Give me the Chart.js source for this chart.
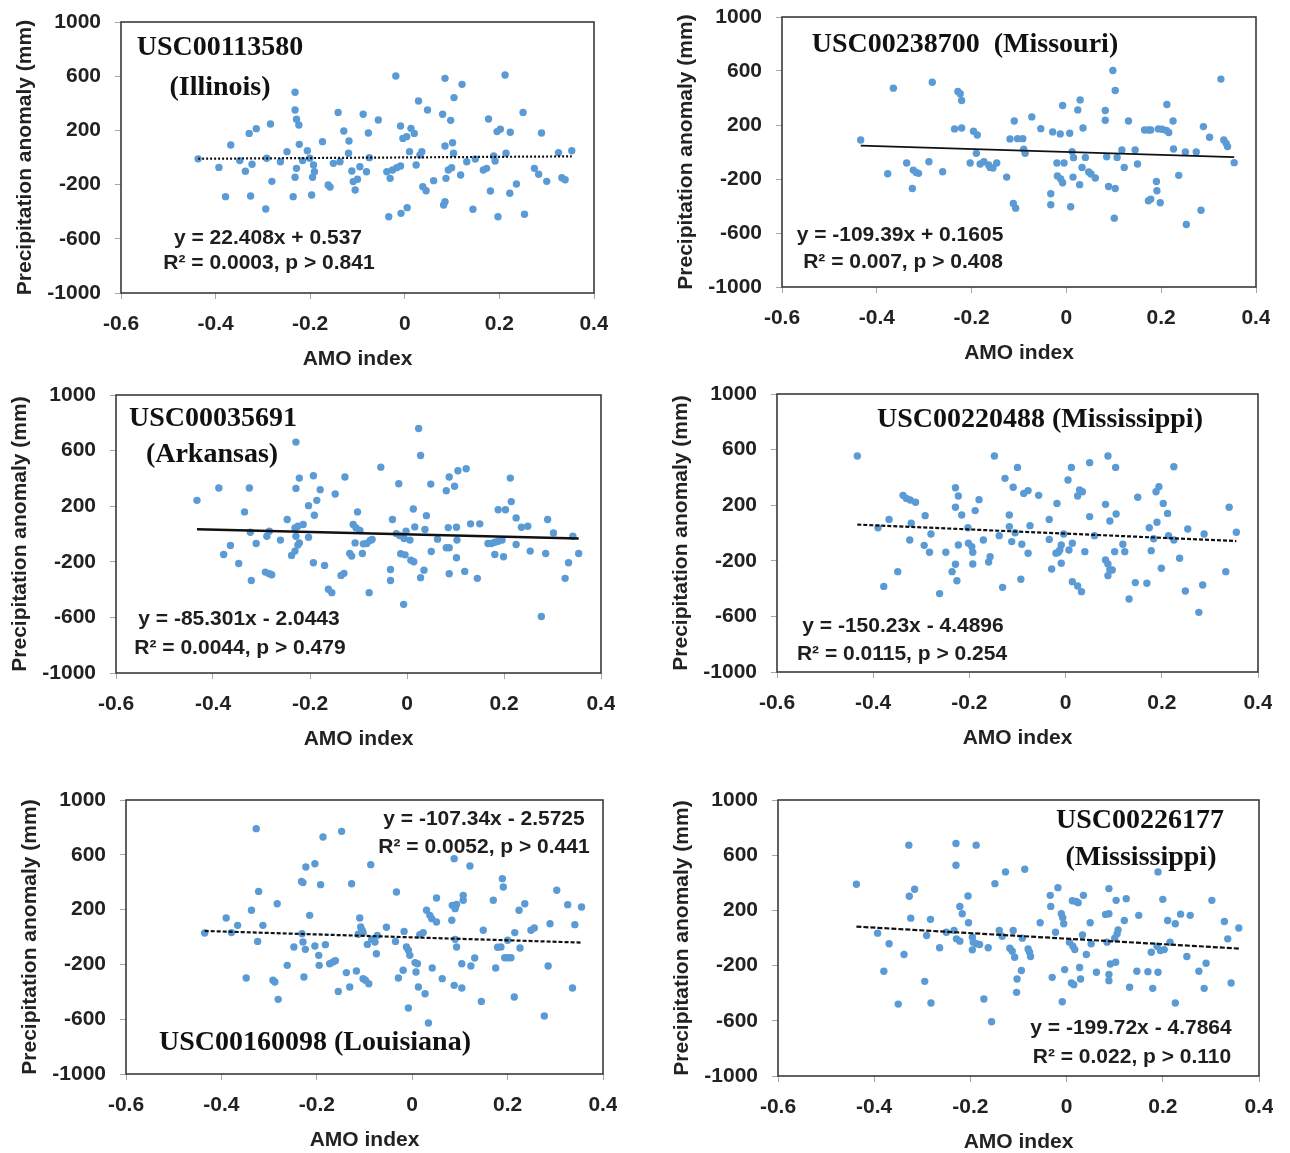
<!DOCTYPE html>
<html>
<head>
<meta charset="utf-8">
<script src="https://cdn.jsdelivr.net/npm/chart.js@4.4.1/dist/chart.umd.min.js"></script>
<style>
html,body{margin:0;padding:0;background:#fff;}
body{width:1290px;height:1153px;position:relative;overflow:hidden;}
canvas{position:absolute;}
.lbl{position:absolute;transform:translate(-50%,-50%);white-space:pre;line-height:1;color:#111;}
.stn{font-family:"Liberation Serif","Times New Roman",serif;font-weight:bold;font-size:28px;}
.eq{font-family:"Liberation Sans",Arial,sans-serif;font-weight:bold;font-size:21px;color:#1e1e1e;}
</style>
</head>
<body>
<script>
// tick labels shared by every panel
var yTicks = [1000, 600, 200, -200, -600, -1000];
var xTicks = [-0.6, -0.4, -0.2, 0, 0.2, 0.4];

// [AMO index, precipitation anomaly (mm)]
var illinoisPts = [[-0.437,-10],[-0.393,-73],[-0.379,-289],[-0.368,92],[-0.349,-23],[-0.337,-102],[-0.329,178],[-0.314,213],[-0.326,-284],[-0.323,-50],
[-0.294,-380],[-0.292,-6],[-0.284,247],[-0.281,-176],[-0.263,-31],[-0.249,43],[-0.236,-289],[-0.232,481],[-0.232,351],[-0.229,282],
[-0.224,240],[-0.223,97],[-0.229,-80],[-0.232,-146],[-0.216,-23],[-0.206,50],[-0.201,-6],[-0.197,-277],[-0.195,-146],[-0.191,-105],
[-0.193,-55],[-0.174,117],[-0.162,-203],[-0.158,-218],[-0.151,-43],[-0.141,333],[-0.137,-31],[-0.129,196],[-0.118,122],[-0.119,31],
[-0.112,-100],[-0.109,-178],[-0.100,-161],[-0.105,-240],[-0.095,-68],[-0.088,319],[-0.081,-105],[-0.077,181],[-0.075,-1],[-0.056,277],
[-0.038,-105],[-0.034,-437],[-0.031,-154],[-0.026,-92],[-0.019,601],[-0.017,-75],[-0.009,-63],[-0.009,232],[-0.004,141],[0.004,154],
[-0.008,-412],[0.005,-370],[0.010,43],[0.013,215],[0.020,178],[0.024,-55],[0.029,417],[0.032,18],[0.036,43],[0.038,-215],
[0.045,-245],[0.048,351],[0.061,-171],[0.080,319],[0.082,-350],[0.085,-326],[0.085,584],[0.085,85],[0.087,-154],[0.092,-92],
[0.097,274],[0.099,-75],[0.101,109],[0.103,31],[0.104,442],[0.118,-129],[0.121,540],[0.131,-31],[0.144,-382],[0.149,-11],
[0.166,-92],[0.173,-80],[0.177,284],[0.181,-247],[0.188,11],[0.191,-26],[0.195,191],[0.202,208],[0.197,-437],[0.212,609],
[0.214,31],[0.222,-264],[0.223,186],[0.236,-196],[0.250,333],[0.253,-419],[0.274,-80],[0.283,-124],[0.289,181],[0.300,-176],
[0.325,36],[0.332,-149],[0.339,-164],[0.353,50]];

var missouriPts = [[-0.434,89],[-0.377,-161],[-0.365,473],[-0.337,-82],[-0.325,-270],[-0.323,-134],[-0.317,-151],[-0.312,-158],[-0.290,-72],[-0.283,517],
[-0.261,-146],[-0.236,171],[-0.221,178],[-0.229,448],[-0.224,431],[-0.221,381],[-0.203,-82],[-0.196,154],[-0.188,126],[-0.190,-10],
[-0.182,-89],[-0.174,-72],[-0.164,-96],[-0.161,-114],[-0.155,-119],[-0.147,-82],[-0.126,-186],[-0.119,97],[-0.103,99],[-0.092,99],
[-0.112,-381],[-0.107,-416],[-0.110,230],[-0.090,20],[-0.087,-10],[-0.073,260],[-0.054,173],[-0.033,-309],[-0.033,-391],[-0.029,149],
[-0.020,-82],[-0.005,-82],[-0.019,-178],[-0.012,-200],[-0.008,-228],[-0.013,134],[0.007,139],[-0.008,344],[0.009,-406],[0.012,3],
[0.015,-42],[0.014,-186],[0.024,312],[0.029,386],[0.028,-242],[0.035,178],[0.033,-114],[0.040,-40],[0.047,-148],[0.052,-163],
[0.061,-193],[0.082,307],[0.082,235],[0.085,-35],[0.089,-255],[0.103,-270],[0.098,604],[0.103,456],[0.101,-490],[0.107,-40],
[0.117,15],[0.122,-114],[0.131,230],[0.145,15],[0.150,-89],[0.165,163],[0.173,163],[0.178,163],[0.173,-361],[0.178,-349],
[0.191,-287],[0.190,-218],[0.198,-376],[0.194,171],[0.202,168],[0.211,159],[0.216,144],[0.212,352],[0.225,230],[0.226,22],
[0.237,-173],[0.251,0],[0.253,-537],[0.274,0],[0.284,-431],[0.289,188],[0.302,109],[0.326,540],[0.332,89],[0.337,64],
[0.340,40],[0.354,-79]];

var arkansasPts = [[-0.433,242],[-0.388,331],[-0.378,-147],[-0.364,-83],[-0.347,-212],[-0.335,159],[-0.325,331],[-0.323,13],[-0.321,-334],[-0.311,-68],
[-0.292,-274],[-0.284,-286],[-0.279,-293],[-0.289,-16],[-0.284,20],[-0.261,-44],[-0.247,104],[-0.238,-154],[-0.231,-123],[-0.225,-80],
[-0.222,-64],[-0.231,44],[-0.225,56],[-0.214,68],[-0.229,-16],[-0.229,661],[-0.229,328],[-0.222,402],[-0.203,204],[-0.203,-23],
[-0.193,419],[-0.193,-207],[-0.191,135],[-0.186,242],[-0.179,319],[-0.170,-226],[-0.162,-398],[-0.155,-422],[-0.148,288],[-0.136,-298],
[-0.130,-283],[-0.128,410],[-0.118,-140],[-0.114,-159],[-0.111,68],[-0.105,44],[-0.107,-64],[-0.102,159],[-0.097,25],[-0.092,-140],
[-0.090,-71],[-0.083,-68],[-0.076,-47],[-0.072,-40],[-0.078,-422],[-0.054,481],[-0.034,-255],[-0.034,-334],[-0.030,104],[-0.022,3],
[-0.015,-11],[-0.017,362],[-0.013,-142],[-0.004,-150],[-0.007,-506],[-0.006,-32],[-0.002,20],[0.006,-44],[0.008,-188],[0.014,-200],
[0.013,180],[0.016,51],[0.024,759],[0.028,565],[0.028,-314],[0.035,-260],[0.037,32],[0.040,132],[0.049,359],[0.050,-126],
[0.063,-37],[0.081,312],[0.081,-99],[0.087,-99],[0.085,46],[0.087,-286],[0.087,410],[0.098,343],[0.102,49],[0.102,-171],
[0.103,-44],[0.105,455],[0.122,469],[0.119,-269],[0.131,73],[0.145,-319],[0.150,73],[0.167,-68],[0.174,-68],[0.181,-59],
[0.188,-52],[0.196,-44],[0.181,-147],[0.199,-164],[0.188,175],[0.203,175],[0.213,402],[0.215,233],[0.225,116],[0.225,-76],
[0.236,49],[0.249,56],[0.254,-123],[0.277,-594],[0.286,-140],[0.290,104],[0.302,8],[0.326,-319],[0.333,-207],[0.342,-16],
[0.354,-140]];

var miss220488Pts = [[-0.433,554],[-0.390,38],[-0.378,-384],[-0.367,98],[-0.349,-278],[-0.338,271],[-0.331,249],[-0.323,237],[-0.312,221],[-0.324,-50],
[-0.321,70],[-0.292,125],[-0.294,-89],[-0.283,-139],[-0.280,-7],[-0.262,-436],[-0.249,-139],[-0.236,-278],[-0.229,-225],[-0.229,326],
[-0.229,185],[-0.226,-343],[-0.223,266],[-0.216,130],[-0.223,-86],[-0.203,38],[-0.202,-74],[-0.195,-98],[-0.193,-139],[-0.193,-223],
[-0.188,161],[-0.180,240],[-0.171,-50],[-0.160,-209],[-0.157,-170],[-0.148,554],[-0.138,-19],[-0.131,-391],[-0.126,393],[-0.117,130],
[-0.117,46],[-0.112,-62],[-0.109,329],[-0.105,2],[-0.100,472],[-0.093,-333],[-0.091,-81],[-0.087,285],[-0.078,305],[-0.078,-146],
[-0.074,53],[-0.056,271],[-0.034,98],[-0.034,-46],[-0.029,-259],[-0.020,-146],[-0.015,-139],[-0.012,-122],[-0.009,-86],[-0.018,213],
[-0.009,-218],[-0.004,-7],[0.005,381],[0.007,-122],[0.012,472],[0.014,-74],[0.014,-350],[0.025,-381],[0.033,-422],[0.025,266],
[0.029,309],[0.035,297],[0.040,-134],[0.050,506],[0.050,118],[0.060,-19],[0.083,206],[0.083,-194],[0.088,-223],[0.092,-266],
[0.097,-266],[0.088,-307],[0.088,554],[0.092,86],[0.102,-134],[0.104,472],[0.105,137],[0.119,-81],[0.123,-134],[0.132,-475],
[0.145,-357],[0.150,257],[0.169,-362],[0.174,38],[0.178,-127],[0.183,-41],[0.190,77],[0.188,297],[0.194,333],[0.199,-254],
[0.203,213],[0.212,141],[0.214,-19],[0.225,477],[0.225,-50],[0.237,-182],[0.249,-417],[0.254,29],[0.277,-571],[0.285,-374],
[0.288,-7],[0.333,-278],[0.340,185],[0.355,5]];

var louisianaPts = [[-0.435,29],[-0.390,139],[-0.379,32],[-0.366,85],[-0.348,-299],[-0.337,195],[-0.327,791],[-0.324,-32],[-0.322,333],[-0.313,85],
[-0.292,-316],[-0.288,-328],[-0.283,243],[-0.281,-455],[-0.262,-207],[-0.248,-73],[-0.232,406],[-0.229,397],[-0.231,24],[-0.229,-36],
[-0.227,-292],[-0.224,-90],[-0.223,511],[-0.204,535],[-0.215,158],[-0.204,-66],[-0.196,-134],[-0.195,-207],[-0.192,382],[-0.187,730],
[-0.182,-56],[-0.173,-195],[-0.166,-182],[-0.161,-173],[-0.155,-397],[-0.148,771],[-0.138,-260],[-0.131,-365],[-0.127,389],[-0.117,-248],
[-0.113,20],[-0.110,139],[-0.108,73],[-0.105,49],[-0.103,32],[-0.103,-304],[-0.098,-316],[-0.091,-341],[-0.094,-54],[-0.087,528],
[-0.085,-17],[-0.078,-36],[-0.075,-122],[-0.073,12],[-0.054,71],[-0.035,-32],[-0.033,328],[-0.029,-299],[-0.019,-243],[-0.017,41],
[-0.012,-73],[-0.008,-97],[-0.005,-134],[-0.008,-518],[0.006,-187],[0.011,-195],[0.008,-255],[0.013,-365],[0.016,17],[0.023,32],
[0.027,-414],[0.030,195],[0.037,158],[0.041,134],[0.034,-628],[0.042,-226],[0.051,285],[0.051,110],[0.063,-304],[0.083,122],
[0.084,231],[0.090,207],[0.093,238],[0.088,572],[0.090,-17],[0.093,-73],[0.088,-353],[0.104,-372],[0.104,-195],[0.107,304],
[0.107,268],[0.121,518],[0.123,-212],[0.131,-153],[0.145,-470],[0.149,49],[0.170,268],[0.175,-226],[0.179,-75],[0.186,-73],
[0.189,426],[0.191,365],[0.194,-151],[0.201,-151],[0.207,-151],[0.200,-24],[0.214,-438],[0.215,32],[0.224,195],[0.226,-80],
[0.236,243],[0.249,49],[0.256,66],[0.277,-577],[0.285,-212],[0.289,97],[0.303,341],[0.326,236],[0.336,-372],[0.341,90],
[0.355,219]];

var miss226177Pts = [[-0.437,389],[-0.393,35],[-0.380,-241],[-0.369,-42],[-0.350,-479],[-0.338,-120],[-0.328,673],[-0.327,302],[-0.316,353],[-0.324,144],
[-0.295,-314],[-0.291,18],[-0.283,135],[-0.282,-471],[-0.264,-71],[-0.250,42],[-0.234,55],[-0.229,-6],[-0.222,-23],[-0.230,685],
[-0.230,527],[-0.222,229],[-0.217,176],[-0.205,304],[-0.204,110],[-0.196,6],[-0.194,-30],[-0.196,-86],[-0.188,-42],[-0.181,-47],
[-0.188,673],[-0.172,-442],[-0.163,-71],[-0.156,-607],[-0.149,394],[-0.140,55],[-0.134,13],[-0.127,479],[-0.118,-74],[-0.113,-96],
[-0.108,-139],[-0.111,55],[-0.103,-297],[-0.104,-394],[-0.094,-236],[-0.092,-1],[-0.087,498],[-0.080,-79],[-0.077,-103],[-0.075,-134],
[-0.055,110],[-0.034,309],[-0.033,229],[-0.030,-285],[-0.023,42],[-0.018,365],[-0.011,176],[-0.008,147],[-0.006,103],[-0.009,-462],
[-0.004,-229],[0.006,-30],[0.013,-59],[0.017,-84],[0.012,270],[0.020,265],[0.024,256],[0.035,309],[0.010,-326],[0.015,-338],
[0.027,-214],[0.029,-297],[0.033,23],[0.041,-120],[0.049,110],[0.051,-42],[0.062,-248],[0.081,171],[0.088,176],[0.084,-30],
[0.088,358],[0.088,-265],[0.088,-309],[0.091,-188],[0.102,-176],[0.100,-1],[0.105,30],[0.107,59],[0.103,273],[0.124,285],
[0.120,127],[0.131,-357],[0.146,-241],[0.150,164],[0.169,-244],[0.176,-103],[0.179,-365],[0.188,-59],[0.195,-91],[0.203,-84],
[0.190,-248],[0.190,479],[0.200,280],[0.210,127],[0.226,103],[0.215,-30],[0.226,-471],[0.237,173],[0.250,-134],[0.257,164],
[0.275,-241],[0.290,-183],[0.286,-365],[0.302,273],[0.328,120],[0.335,-6],[0.342,-326],[0.358,72]];

// trendline end points (from the printed regression equations)
var illinoisTrend = [[-0.437,-9.3],[0.353,8.4]];
var missouriTrend = [[-0.434,47.6],[0.354,-38.6]];
var arkansasTrend = [[-0.433,34.9],[0.354,-32.2]];
var miss220488Trend = [[-0.433,60.6],[0.355,-57.8]];
var louisianaTrend = [[-0.435,44.1],[0.355,-40.7]];
var miss226177Trend = [[-0.437,82.5],[0.358,-76.3]];

var tickFont = {family:'"Liberation Sans", Arial, sans-serif', size:21, weight:'bold'};
var titleFont = {family:'"Liberation Sans", Arial, sans-serif', size:21, weight:'bold'};

var framePlugin = {
	id: 'frame',
	afterDraw: function(chart) {
		var a = chart.chartArea, ctx = chart.ctx;
		ctx.save();
		ctx.strokeStyle = '#3a3a3a';
		ctx.lineWidth = 1.6;
		ctx.strokeRect(a.left, a.top, a.right - a.left, a.bottom - a.top);
		ctx.restore();
	}
};

var panels = [
	{pts: illinoisPts, trend: illinoisTrend, dash: [2, 2], lw: 2.2, box: [121, 22, 594, 293],
	 labels: [['USC00113580', 220, 46, 'stn'], ['(Illinois)', 220, 86, 'stn'],
	          ['y = 22.408x + 0.537', 268, 236, 'eq'], ['R\u00b2 = 0.0003, p > 0.841', 269, 261, 'eq']]},
	{pts: missouriPts, trend: missouriTrend, dash: [], lw: 1.8, box: [782, 17, 1256, 287],
	 labels: [['USC00238700  (Missouri)', 965, 43, 'stn'],
	          ['y = -109.39x + 0.1605', 900, 233, 'eq'], ['R\u00b2 = 0.007, p > 0.408', 903, 260, 'eq']]},
	{pts: arkansasPts, trend: arkansasTrend, dash: [], lw: 2.5, box: [116, 395, 601, 673],
	 labels: [['USC00035691', 213, 417, 'stn'], ['(Arkansas)', 212, 453, 'stn'],
	          ['y = -85.301x - 2.0443', 239, 617, 'eq'], ['R\u00b2 = 0.0044, p > 0.479', 240, 646, 'eq']]},
	{pts: miss220488Pts, trend: miss220488Trend, dash: [4, 2], lw: 2.2, box: [777, 394, 1258, 672],
	 labels: [['USC00220488 (Mississippi)', 1040, 418, 'stn'],
	          ['y = -150.23x - 4.4896', 903, 624, 'eq'], ['R\u00b2 = 0.0115, p > 0.254', 902, 652, 'eq']]},
	{pts: louisianaPts, trend: louisianaTrend, dash: [4, 2], lw: 2.2, box: [126, 800, 603, 1074],
	 labels: [['USC00160098 (Louisiana)', 315, 1041, 'stn'],
	          ['y = -107.34x - 2.5725', 484, 817, 'eq'], ['R\u00b2 = 0.0052, p > 0.441', 484, 845, 'eq']]},
	{pts: miss226177Pts, trend: miss226177Trend, dash: [5, 2], lw: 2.2, box: [778, 800, 1259, 1076],
	 labels: [['USC00226177', 1140, 819, 'stn'], ['(Mississippi)', 1141, 856, 'stn'],
	          ['y = -199.72x - 4.7864', 1131, 1026, 'eq'], ['R\u00b2 = 0.022, p > 0.110', 1132, 1055, 'eq']]}
];

function toXY(arr) {
	return arr.map(function(p) { return {x: p[0], y: p[1]}; });
}

// no extra room for tick labels that stick out past the plot box
function noOverhang(s) {
	s.paddingTop = 0;
	s.paddingBottom = 0;
	s.paddingLeft = 0;
	s.paddingRight = 0;
}

function makePanel(p) {
	var yw = 120, xh = 80, pt = 12, pr = 14;
	var L = p.box[0], T = p.box[1], R = p.box[2], B = p.box[3];
	var cv = document.createElement('canvas');
	cv.width = R - L + yw + pr;
	cv.height = B - T + pt + xh;
	cv.style.left = (L - yw) + 'px';
	cv.style.top = (T - pt) + 'px';
	document.body.appendChild(cv);

	new Chart(cv, {
		type: 'scatter',
		data: {
			datasets: [
				{
					data: toXY(p.trend),
					showLine: true,
					pointRadius: 0,
					borderColor: '#111',
					borderWidth: p.lw,
					borderDash: p.dash,
					order: 0
				},
				{
					data: toXY(p.pts),
					pointRadius: 3.7,
					pointHoverRadius: 3.7,
					backgroundColor: '#5b9bd5',
					borderWidth: 0,
					order: 1
				}
			]
		},
		options: {
			responsive: false,
			animation: false,
			devicePixelRatio: 1,
			layout: {padding: {left: 0, top: pt, right: pr, bottom: 0}},
			plugins: {legend: {display: false}, tooltip: {enabled: false}},
			scales: {
				x: {
					type: 'linear', min: -0.6, max: 0.4,
					afterFit: function(s) { s.height = xh; noOverhang(s); },
					afterBuildTicks: function(s) { s.ticks = xTicks.map(function(v) { return {value: v}; }); },
					ticks: {
						font: tickFont, color: '#222', padding: 13, maxRotation: 0,
						callback: function(v) { return v === 0 ? '0' : Number(v).toFixed(1); }
					},
					grid: {drawOnChartArea: false, drawTicks: true, tickLength: 6, color: '#a6a6a6'},
					border: {display: false},
					title: {display: true, text: 'AMO index', font: titleFont, color: '#222', padding: {top: 0, bottom: 1}}
				},
				y: {
					type: 'linear', min: -1000, max: 1000,
					afterFit: function(s) { s.width = yw; noOverhang(s); },
					afterBuildTicks: function(s) { s.ticks = yTicks.map(function(v) { return {value: v}; }); },
					ticks: {font: tickFont, color: '#222', padding: 14, callback: function(v) { return String(v); }},
					grid: {drawOnChartArea: false, drawTicks: true, tickLength: 6, color: '#a6a6a6'},
					border: {display: false},
					title: {display: true, text: 'Precipitation anomaly (mm)', font: titleFont, color: '#222', padding: {top: 12, bottom: 0}}
				}
			}
		},
		plugins: [framePlugin]
	});

	p.labels.forEach(function(l) {
		var d = document.createElement('div');
		d.className = 'lbl ' + l[3];
		d.textContent = l[0];
		d.style.left = l[1] + 'px';
		d.style.top = l[2] + 'px';
		document.body.appendChild(d);
	});
}

panels.forEach(makePanel);
</script>
</body>
</html>
